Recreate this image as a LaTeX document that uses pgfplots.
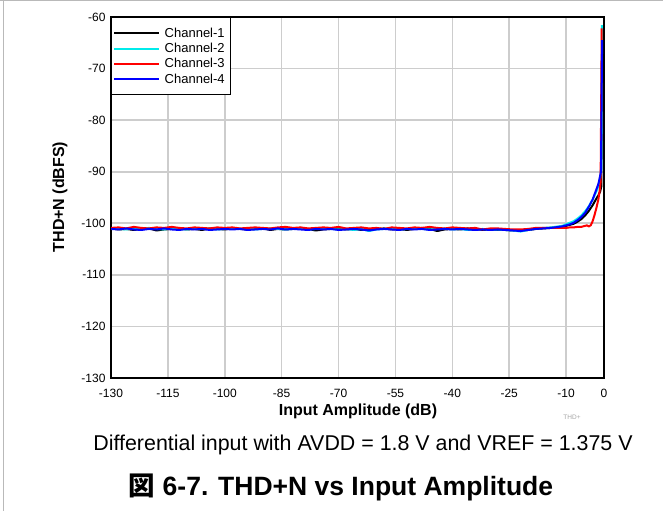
\documentclass[border=0pt]{standalone}
\usepackage{pgfplots}
\pgfplotsset{compat=1.18}
\usepackage{pgfplotstable}
\usepackage{fontspec}
\setmainfont{Liberation Sans}
\newfontfamily\cjk{Noto Sans CJK JP}
\definecolor{chA}{RGB}{0,0,0}
\definecolor{chB}{RGB}{0,235,235}
\definecolor{chC}{RGB}{255,0,0}
\definecolor{chD}{RGB}{0,0,255}
\definecolor{gridc}{RGB}{205,205,205}

\pgfplotstableread{
x c1 c2 c3 c4
-130 -101.0 -101.0 -100.9 -101.1
-128 -101.2 -101.1 -100.8 -101.2
-126 -101.1 -101.2 -101.0 -101.0
-124 -101.3 -101.0 -100.7 -101.2
-122 -101.1 -101.1 -100.9 -101.3
-120 -101.0 -100.9 -101.0 -101.1
-118 -101.4 -101.1 -100.8 -101.2
-116 -101.2 -101.2 -100.9 -101.0
-114 -101.1 -101.0 -100.7 -101.2
-112 -101.0 -101.1 -100.9 -101.3
-110 -101.2 -101.2 -101.0 -101.1
-108 -101.1 -101.0 -100.8 -101.2
-106 -101.3 -101.1 -100.9 -101.1
-104 -101.0 -101.0 -101.0 -101.3
-102 -101.1 -101.2 -100.8 -101.2
-100 -101.2 -101.1 -100.9 -101.1
-98 -101.0 -101.0 -100.8 -101.2
-96 -101.1 -101.1 -101.0 -101.1
-94 -101.2 -101.0 -100.9 -101.3
-92 -101.1 -101.2 -100.8 -101.2
-90 -101.0 -101.1 -100.9 -101.1
-88 -101.3 -101.0 -101.0 -101.2
-86 -101.1 -101.1 -100.8 -101.0
-84 -101.2 -101.2 -100.7 -101.2
-82 -101.1 -101.1 -100.9 -101.1
-80 -100.9 -101.0 -100.8 -101.2
-78 -101.1 -101.2 -101.0 -101.3
-76 -101.4 -101.1 -100.9 -101.1
-74 -101.2 -101.0 -100.8 -101.2
-72 -101.1 -101.1 -100.9 -101.1
-70 -101.0 -101.2 -100.7 -101.3
-68 -101.2 -101.1 -101.0 -101.2
-66 -101.1 -101.3 -100.9 -101.1
-64 -101.3 -101.1 -100.8 -101.2
-62 -101.2 -101.5 -101.0 -101.4
-60 -101.1 -101.2 -100.9 -101.2
-58 -101.0 -101.1 -101.1 -101.1
-56 -101.2 -101.0 -100.8 -101.2
-54 -101.1 -101.2 -100.9 -101.3
-52 -101.3 -101.1 -101.0 -101.1
-50 -101.1 -101.0 -100.8 -101.2
-48 -100.9 -101.1 -100.9 -101.1
-46 -101.1 -101.2 -100.7 -101.3
-44 -101.5 -101.1 -100.9 -101.2
-42 -101.2 -101.0 -101.0 -101.1
-40 -101.1 -101.2 -100.8 -101.2
-38 -101.2 -101.1 -100.9 -101.1
-36 -101.0 -101.3 -101.0 -101.2
-34 -101.1 -101.2 -100.9 -101.3
-32 -101.3 -101.1 -101.2 -101.2
-30 -101.2 -101.3 -101.0 -101.3
-28 -101.3 -101.2 -101.0 -101.2
-26 -101.3 -101.3 -101.1 -101.3
-24 -101.4 -101.4 -101.2 -101.4
-22 -101.4 -101.6 -101.2 -101.5
-20 -101.3 -101.3 -101.1 -101.3
-18 -101.1 -101.0 -100.9 -101.1
-16 -101.0 -100.9 -100.9 -101.0
-14 -100.9 -100.8 -100.9 -100.9
-12 -100.8 -100.6 -100.9 -100.7
-11 -100.7 -100.5 -100.9 -100.6
-10 -100.5 -100.2 -100.9 -100.4
-9 -100.3 -99.9 -100.8 -100.2
-8 -100.1 -99.6 -100.8 -99.9
-7 -99.7 -99.1 -100.7 -99.4
-6 -99.2 -98.5 -100.7 -98.8
-5 -98.5 -97.7 -100.5 -98.0
-4.5 nan nan -100.4 nan
-4 -97.6 -96.7 -100.6 -96.8
-3.5 nan nan -100.4 nan
-3 -96.5 -95.4 -99.6 -95.4
-2.5 nan nan -98.4 nan
-2 -95.2 -93.8 -97.0 -93.4
-1.5 -94.6 -92.8 -95.4 -92.4
-1.2 nan nan -94.0 -91.4
-1 -93.8 -91.2 nan nan
-0.9 nan nan -92.0 nan
-0.8 nan nan nan -90.0
-0.7 -92.8 -89.5 nan nan
-0.6 nan nan -62.2 nan
-0.55 nan -61.6 nan nan
-0.5 -64.5 nan nan -64.5
}\thd

\begin{document}
\begin{tikzpicture}[x=1bp,y=1bp]
\useasboundingbox (0,0) rectangle (663,511);
\draw[gray!55, line width=1.2bp] (0,510.3) -- (663,510.3);
\draw[gray!55, line width=1.2bp] (3.5,0) -- (3.5,511);
\begin{axis}[
  at={(111bp,133bp)}, anchor=south west,
  scale only axis, width=493bp, height=361bp,
  xmin=-130, xmax=0, ymin=-130, ymax=-60,
  xtick={-130,-115,-100,-85,-70,-55,-40,-25,-10,0},
  ytick={-130,-120,-110,-100,-90,-80,-70,-60},
  grid=major,
  major grid style={draw=gridc, line width=1.6bp},
  axis line style={line width=1.8bp},
  tick style={draw=none},
  ticklabel style={font=\fontsize{12bp}{14bp}\selectfont},
  xticklabel style={yshift=-8bp},
  yticklabel style={xshift=-2bp},
  /pgf/number format/assume math mode=true,
  legend style={at={(0,1)}, anchor=north west, draw=black, line width=1.4bp,
    font=\fontsize{13bp}{15bp}\selectfont, inner xsep=1.5bp, inner ysep=8bp,
    row sep=0.5bp, nodes={inner xsep=4.5bp}},
  legend cell align=left,
  legend image code/.code={\draw[#1, line width=2bp] (0bp,0bp) -- (45bp,0bp);},
  every axis plot/.append style={line width=2bp, line join=round},
]
\addplot[chA] table[x=x, y=c1] {\thd};
\addplot[chB] table[x=x, y=c2] {\thd};
\addplot[chC] table[x=x, y=c3] {\thd};
\addplot[chD] table[x=x, y=c4] {\thd};
\legend{Channel-1, Channel-2, Channel-3, Channel-4}
\end{axis}
\node[font=\bfseries\fontsize{16bp}{19bp}\selectfont] at (358,100) {Input Amplitude (dB)};
\node[rotate=90, font=\bfseries\fontsize{16bp}{19bp}\selectfont] at (60,314) {THD+N (dBFS)};
\node[text=black!35, font=\fontsize{6.5bp}{7bp}\selectfont] at (572,94) {THD+};
\node[font=\fontsize{21.4bp}{25bp}\selectfont] at (363,66) {Differential input with AVDD = 1.8 V and VREF = 1.375 V};
\node[font=\bfseries\fontsize{26.5bp}{31bp}\selectfont] at (341,24) {{\cjk\bfseries 図} 6-7. THD+N vs Input Amplitude};
\end{tikzpicture}
\end{document}
